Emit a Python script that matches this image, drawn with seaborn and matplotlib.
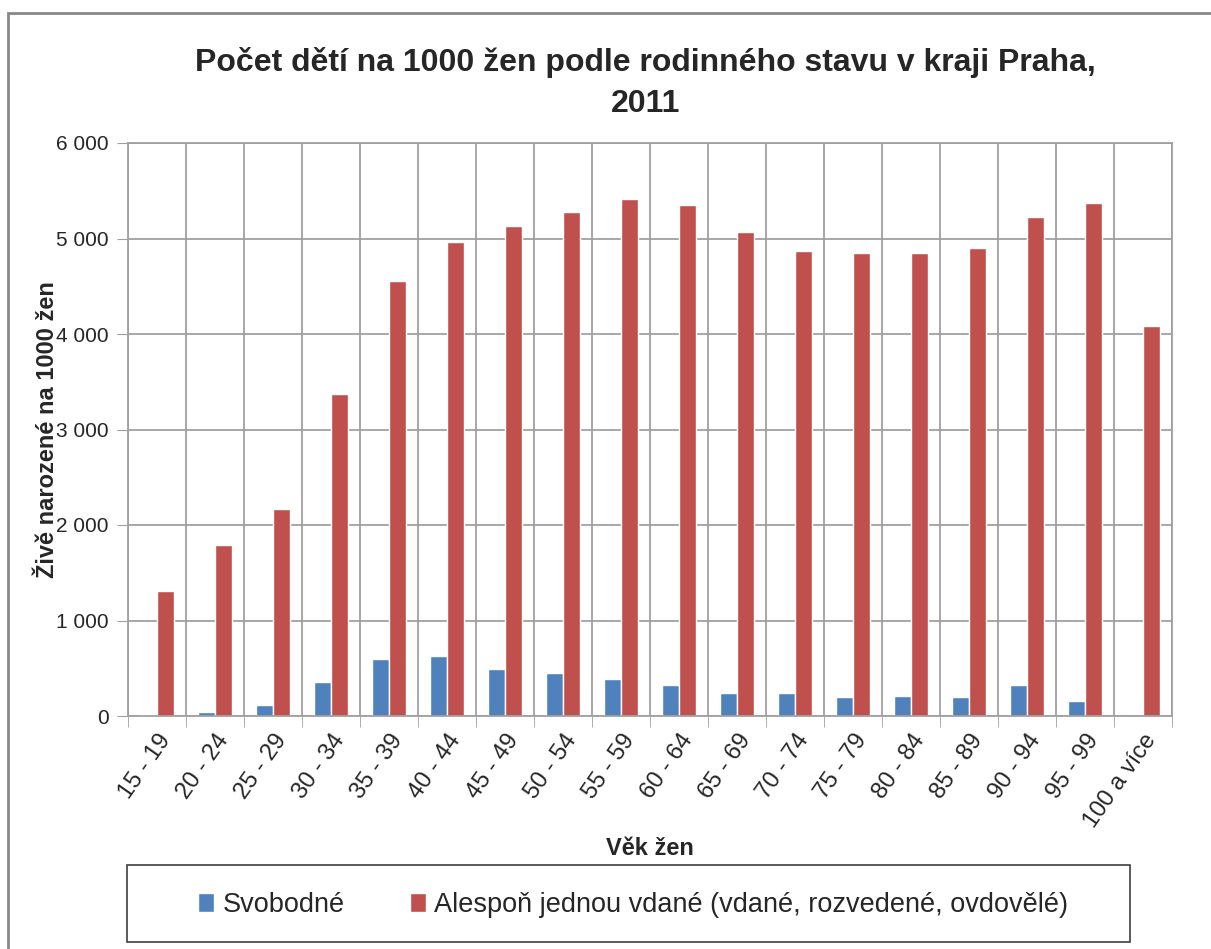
import matplotlib
matplotlib.use("Agg")
import matplotlib.pyplot as plt
import matplotlib.patches as mpatches
from matplotlib.ticker import FuncFormatter, FixedLocator
import numpy as np
import pandas as pd
import seaborn as sns

# data
ages = ['15 - 19', '20 - 24', '25 - 29', '30 - 34', '35 - 39', '40 - 44', '45 - 49',
        '50 - 54', '55 - 59', '60 - 64', '65 - 69', '70 - 74', '75 - 79', '80 - 84',
        '85 - 89', '90 - 94', '95 - 99', '100 a více']
svobodne = [15, 45, 120, 360, 600, 630, 495, 450, 390, 325, 240, 245, 200, 210,
            200, 325, 160, 0]
vdane = [1310, 1790, 2170, 3370, 4555, 4960, 5130, 5275, 5410, 5350, 5065, 4870,
         4850, 4850, 4900, 5225, 5370, 4085]
series_names = ['Svobodné', 'Alespoň jednou vdané (vdané, rozvedené, ovdovělé)']
colors = ['#4F81BD', '#C0504D']

df = pd.DataFrame({
    'age': ages * 2,
    'value': svobodne + vdane,
    'series': [series_names[0]] * len(ages) + [series_names[1]] * len(ages),
})

sns.set_style('white')
plt.rcParams['font.family'] = ['Liberation Sans', 'DejaVu Sans']

fig = plt.figure(figsize=(12.11, 9.49), dpi=100)
ax = fig.add_axes([128/1211, 1 - 716/949, 1044/1211, 573/949])

sns.barplot(data=df, x='age', y='value', hue='series', palette=colors,
            width=0.58, saturation=1, ax=ax, legend=True)

ax.set_xlim(-0.5, len(ages) - 0.5)
ax.set_ylim(0, 6000)
ax.set_yticks(np.arange(0, 6001, 1000))
ax.yaxis.set_major_formatter(FuncFormatter(lambda v, p: f'{int(v):,}'.replace(',', ' ')))
ax.tick_params(axis='y', length=8, color='#a0a0a0', labelsize=15, pad=6, direction='out', left=True)

# category boundaries for vertical grid and tick marks
ax.xaxis.set_minor_locator(FixedLocator(np.arange(-0.5, len(ages), 1)))
ax.tick_params(axis='x', which='major', length=0, labelsize=17, pad=10)
ax.tick_params(axis='x', which='minor', length=8, color='#a0a0a0', direction='out', bottom=True)
plt.setp(ax.get_xticklabels(), rotation=55, ha='right', rotation_mode='anchor')

ax.grid(True, axis='y', which='major', color='#a0a0a0', linewidth=1.3)
ax.grid(True, axis='x', which='minor', color='#a0a0a0', linewidth=1.3)
ax.grid(False, axis='x', which='major')
ax.set_axisbelow(True)
for s in ax.spines.values():
    s.set_color('#a0a0a0')
    s.set_linewidth(1.3)

ax.set_xlabel('Věk žen', fontsize=17, fontweight='bold', labelpad=4)
ax.set_ylabel('Živě narozené na 1000 žen', fontsize=17, fontweight='bold')
ax.yaxis.set_label_coords(-0.066, 0.5)

fig.suptitle('Počet dětí na 1000 žen podle rodinného stavu v kraji Praha,\n2011',
             x=0.533, y=0.951, fontsize=23, fontweight='bold', linespacing=1.5)

handles, labels = ax.get_legend_handles_labels()
ax.get_legend().remove()
fig.legend(handles, labels, loc='center', ncol=2,
           bbox_to_anchor=(633/1211, 1 - 905/949), frameon=False, fontsize=19.5,
           handlelength=0.6, handleheight=0.7, handletextpad=0.3, columnspacing=2.4)

# legend frame
fig.patches.append(mpatches.Rectangle((127/1211, 1 - 942/949), 1003/1211, 77/949,
                                      transform=fig.transFigure, fill=False,
                                      edgecolor='#404040', linewidth=1.2))

# outer chart frame
fig.patches.append(mpatches.Rectangle((8/1211, -0.01), 1.1, 1 - 13/949 + 0.01,
                                      transform=fig.transFigure, fill=False,
                                      edgecolor='#888888', linewidth=2))

fig.savefig('out.png', dpi=100)
